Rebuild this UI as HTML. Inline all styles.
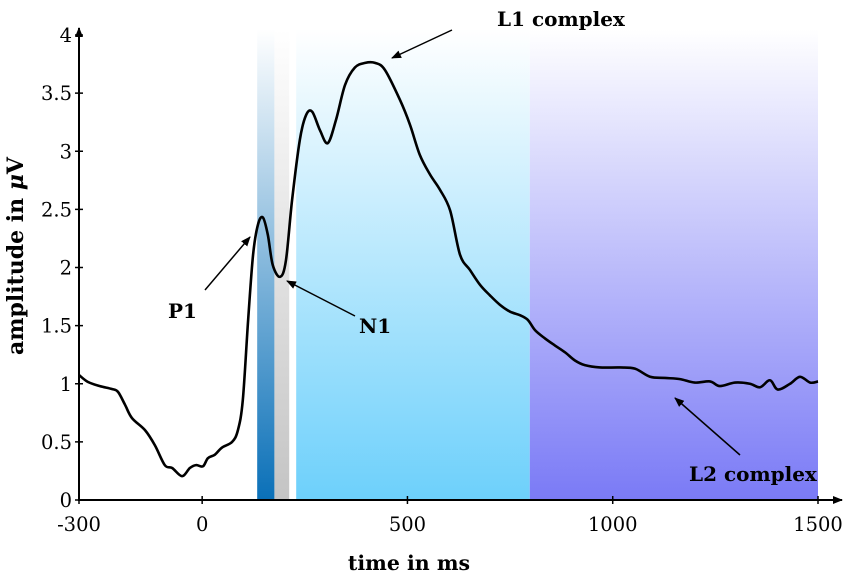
<!DOCTYPE html>
<html><head><meta charset="utf-8"><style>
body{margin:0;background:#fff}
svg{display:block;font-family:"DejaVu Serif","Liberation Serif",serif}
</style></head><body>
<svg width="851" height="578" viewBox="0 0 851 578">
<defs>
<linearGradient id="gP1" x1="0" y1="0" x2="0" y2="1"><stop offset="0" stop-color="#fff"/><stop offset="1" stop-color="#0a70b8"/></linearGradient>
<linearGradient id="gN1" x1="0" y1="0" x2="0" y2="1"><stop offset="0" stop-color="#fff"/><stop offset="1" stop-color="#c4c4c4"/></linearGradient>
<linearGradient id="gL1" x1="0" y1="0" x2="0" y2="1"><stop offset="0" stop-color="#fff"/><stop offset="1" stop-color="#6dd0fb"/></linearGradient>
<linearGradient id="gL2" x1="0" y1="0" x2="0" y2="1"><stop offset="0" stop-color="#fff"/><stop offset="1" stop-color="#7a7af6"/></linearGradient>
<marker id="ah" markerWidth="10" markerHeight="8" refX="9" refY="4" orient="auto" markerUnits="userSpaceOnUse"><path d="M0,0 L10,4 L0,8 Z" fill="#000"/></marker>
</defs>
<g id="bands"></g>
<g id="axes"></g>
<path id="erp" fill="none" stroke="#000" stroke-width="2.6" stroke-linejoin="round"/>
<g id="annot" font-weight="bold" font-size="20">
<text x="497" y="26">L1 complex</text>
<line x1="452" y1="30" x2="392" y2="58" stroke="#000" stroke-width="1.5" marker-end="url(#ah)"/>
<text x="168" y="318">P1</text>
<line x1="205" y1="290" x2="250" y2="237" stroke="#000" stroke-width="1.5" marker-end="url(#ah)"/>
<text x="359" y="333">N1</text>
<line x1="355" y1="316" x2="287" y2="281" stroke="#000" stroke-width="1.5" marker-end="url(#ah)"/>
<text x="689" y="481">L2 complex</text>
<line x1="740" y1="455" x2="675" y2="398" stroke="#000" stroke-width="1.5" marker-end="url(#ah)"/>
</g>
<text x="23" y="256" font-weight="bold" font-size="22" text-anchor="middle" transform="rotate(-90 23 256)">amplitude in <tspan font-style="italic">μ</tspan>V</text>
<text x="409" y="570" font-weight="bold" font-size="20.5" text-anchor="middle">time in ms</text>
</svg>
<script>
const times=[-300,-278,-249,-220,-205,-188,-171,-139,-115,-91,-73,-49,-30,-15,2,14,31,48,73,87,99,112,124,136,148,160,172,190,204,219,238,253,268,287,306,326,348,372,397,421,445,482,506,530,555,579,604,628,652,677,701,725,750,774,793,811,835,859,884,908,932,969,1018,1054,1091,1127,1164,1200,1237,1261,1298,1334,1359,1383,1402,1432,1456,1481,1500];
const amps=[1.075,1.015,0.98,0.955,0.93,0.82,0.705,0.60,0.47,0.30,0.275,0.205,0.275,0.30,0.29,0.36,0.39,0.45,0.50,0.60,0.86,1.55,2.11,2.37,2.43,2.28,2.02,1.92,2.06,2.58,3.10,3.31,3.34,3.18,3.07,3.27,3.57,3.72,3.76,3.76,3.70,3.44,3.23,2.97,2.80,2.67,2.49,2.11,1.98,1.85,1.76,1.68,1.62,1.59,1.55,1.46,1.39,1.33,1.27,1.20,1.16,1.14,1.14,1.13,1.06,1.05,1.04,1.01,1.02,0.98,1.01,1.00,0.97,1.03,0.95,1.00,1.06,1.01,1.02];
const xTicks=[-300,0,500,1000,1500];
const yTicks=[0,0.5,1,1.5,2,2.5,3,3.5,4];
const bandStarts=[134,176,229,798];
const bandEnds=[176,212,798,1500];
const bandNames=["p1-window","n1-window","l1-window","l2-window"];
const bandFills=["url(#gP1)","url(#gN1)","url(#gL1)","url(#gL2)"];
const X=t=>79+(t+300)*(739/1800);
const Y=a=>500-a*116.25;
const NS="http://www.w3.org/2000/svg";
const bands=document.getElementById('bands');
bandStarts.forEach((s,i)=>{
  const r=document.createElementNS(NS,'rect');
  r.setAttribute('x',X(s));r.setAttribute('width',X(bandEnds[i])-X(s));
  r.setAttribute('y',Y(4.05));r.setAttribute('height',Y(0)-Y(4.05));
  r.setAttribute('fill',bandFills[i]);
  
  
  bands.appendChild(r);
});
const axes=document.getElementById('axes');
function line(x1,y1,x2,y2,name,arrow){
  const l=document.createElementNS(NS,'line');
  l.setAttribute('x1',x1);l.setAttribute('y1',y1);l.setAttribute('x2',x2);l.setAttribute('y2',y2);
  l.setAttribute('stroke','#000');l.setAttribute('stroke-width',arrow?2:1.5);
  if(arrow)l.setAttribute('marker-end','url(#ah)');
  
  
  axes.appendChild(l);
}
line(79,Y(0)+1,79,28,'y-axis-line',true);
line(78,Y(0),842,Y(0),'x-axis-line',true);
function txt(x,y,s,anchor,name){
  const t=document.createElementNS(NS,'text');
  t.setAttribute('x',x);t.setAttribute('y',y);t.setAttribute('font-size','19.5');
  t.setAttribute('text-anchor',anchor);t.textContent=s;
  
  
  axes.appendChild(t);
}
yTicks.forEach(v=>{
  line(75,Y(v),83,Y(v),'y-tick');
  txt(72,Y(v)+7,String(v),'end','y-tick-label');
});
xTicks.forEach(v=>{
  line(X(v),Y(0)-4,X(v),Y(0)+4,'x-tick');
  txt(X(v),Y(0)+31,String(v),'middle','x-tick-label');
});
const pts=times.map((t,i)=>[X(t),Y(amps[i])]);
let d='M'+pts[0][0]+','+pts[0][1];
for(let i=0;i<pts.length-1;i++){
  const p0=pts[i-1]||pts[i],p1=pts[i],p2=pts[i+1],p3=pts[i+2]||p2;
  const c1=[p1[0]+(p2[0]-p0[0])/6,p1[1]+(p2[1]-p0[1])/6];
  const c2=[p2[0]-(p3[0]-p1[0])/6,p2[1]-(p3[1]-p1[1])/6];
  d+=` C${c1[0]},${c1[1]} ${c2[0]},${c2[1]} ${p2[0]},${p2[1]}`;
}
document.getElementById('erp').setAttribute('d',d);
</script>
</body></html>
